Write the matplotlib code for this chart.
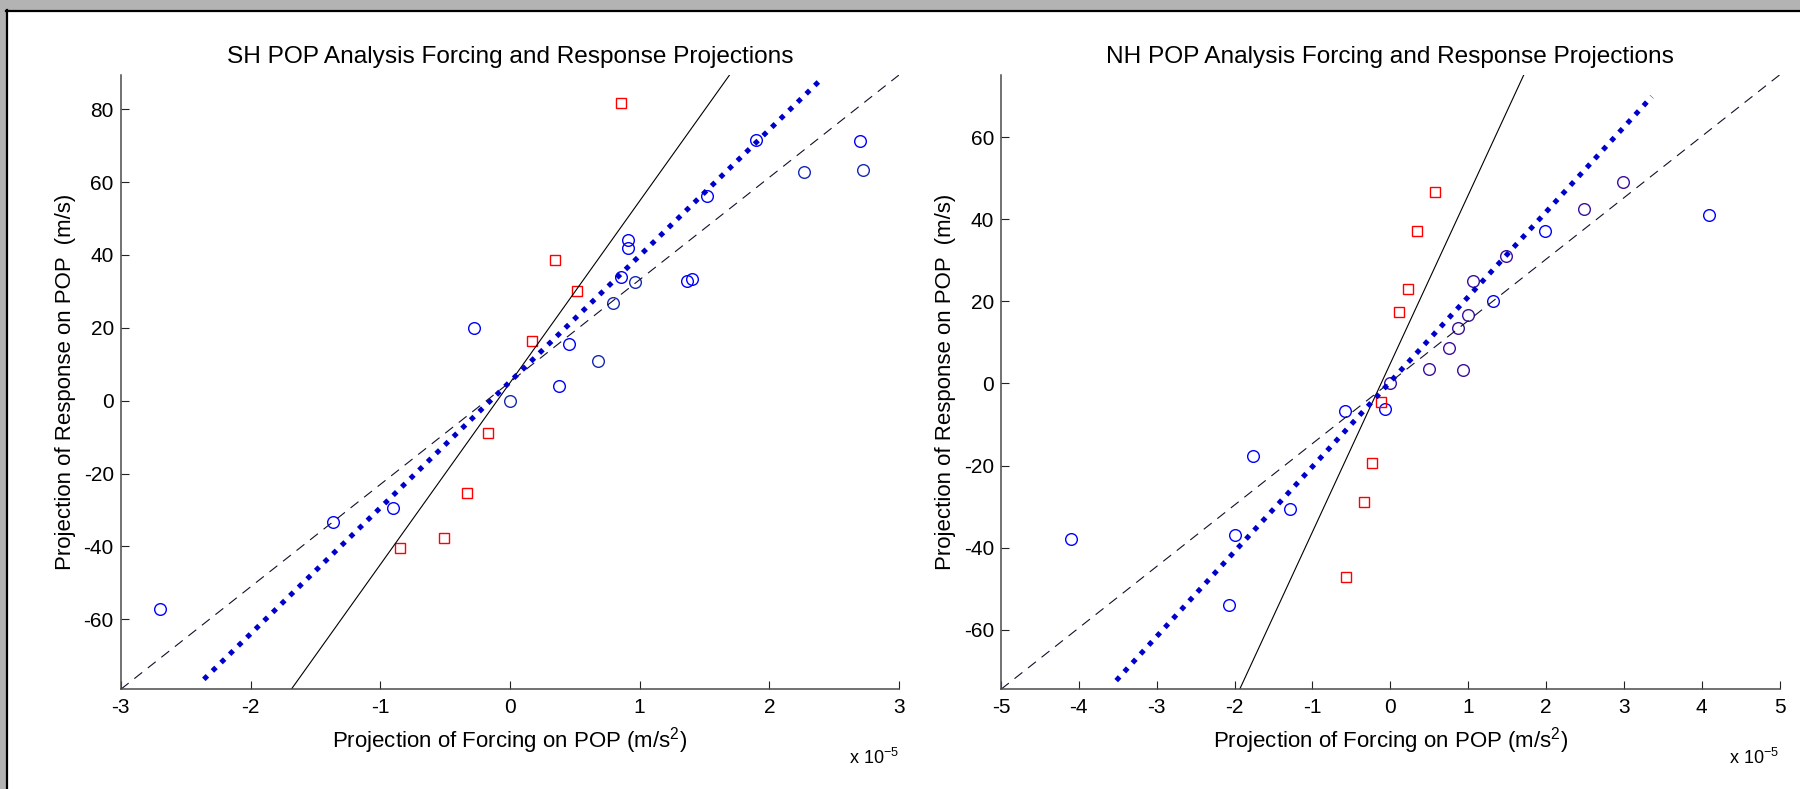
import numpy as np
import matplotlib
matplotlib.use('Agg')
import matplotlib.pyplot as plt
from matplotlib.patches import Rectangle
from matplotlib.lines import Line2D

plt.rcParams['font.family'] = ['Liberation Sans', 'DejaVu Sans']
plt.rcParams['mathtext.fontset'] = 'custom'
plt.rcParams['mathtext.rm'] = 'Liberation Sans'
plt.rcParams['mathtext.default'] = 'regular'
plt.rcParams['axes.unicode_minus'] = False

# x values are in units of 1e-5 m/s^2

# SH panel
sh_circ_x = [1.894, 2.699, 2.267, 2.722, 1.517, 0.910, 0.910, 0.853, 0.964, 1.362,
             1.406, 0.797, 0.455, 0.681, 0.380, 0.0, -0.275, -0.905, -1.367, -2.694]
sh_circ_y = [71.5, 71.2, 62.9, 63.2, 56.1, 44.0, 41.8, 33.9, 32.7, 32.8,
             33.5, 26.8, 15.6, 11.0, 4.0, 0.0, 20.0, -29.5, -33.3, -57.1]
sh_circ_dark = [0, 0, 1, 1, 0, 0, 0, 0, 1, 0, 0, 1, 0, 1, 0, 1, 0, 0, 0, 0]
sh_sq_x = [0.853, 0.345, 0.514, 0.172, -0.167, -0.334, -0.506, -0.846]
sh_sq_y = [81.7, 38.5, 30.0, 16.3, -8.75, -25.3, -37.8, -40.4]
sh_fit = {'solid': (49.9, 4.9), 'dashed': (28.1, 5.1), 'dotted': (34.6, 5.2)}
sh_dot_range = [-2.36, 2.41]
sh_xlim = [-3, 3]
sh_yticks = [-60, -40, -20, 0, 20, 40, 60, 80]

# NH panel
nh_circ_x = [2.991, 2.495, 4.099, 1.994, 1.493, 1.061, 1.322, 0.993, 0.869, 0.749,
             0.501, 0.937, 0.0, -0.064, -0.587, -1.759, -1.284, -1.990, -4.099, -2.071]
nh_circ_y = [49.0, 42.4, 41.1, 37.0, 31.0, 24.9, 20.1, 16.6, 13.4, 8.5,
             3.4, 3.2, 0.0, -6.2, -6.75, -17.6, -30.7, -36.9, -37.9, -54.0]
nh_circ_dark = [1, 1, 0, 0, 1, 1, 0, 1, 1, 1, 1, 1, 1, 0, 0, 0, 0, 0, 0, 0]
nh_sq_x = [0.574, 0.342, 0.227, 0.116, -0.116, -0.231, -0.342, -0.573]
nh_sq_y = [46.6, 37.2, 23.1, 17.4, -4.5, -19.5, -29.0, -47.1]
nh_fit = {'solid': (41.0, 4.8), 'dashed': (14.96, 0.3), 'dotted': (20.67, 0.38)}
nh_dot_range = [-3.52, 3.36]
nh_xlim = [-5, 5]
nh_yticks = [-60, -40, -20, 0, 20, 40, 60]

W, H = 1800, 789
fig = plt.figure(figsize=(W / 100, H / 100), dpi=100)
fig.patch.set_facecolor('white')

# grey window frame on top and left
fig.patches.append(Rectangle((0, 1 - 10 / H), 1, 10 / H, transform=fig.transFigure,
                             facecolor='#b3b3b3', edgecolor='none', zorder=0))
fig.patches.append(Rectangle((0, 0), 6 / W, 1, transform=fig.transFigure,
                             facecolor='#b3b3b3', edgecolor='none', zorder=0))
fig.lines.append(Line2D([6 / W, 1], [1 - 11 / H, 1 - 11 / H], transform=fig.transFigure,
                        color='black', lw=1.6))
fig.lines.append(Line2D([7 / W, 7 / W], [0, 1 - 10 / H], transform=fig.transFigure,
                        color='black', lw=1.6))


def draw_panel(rect, title, cx, cy, cdark, sx, sy, fit, dot_range, xlim, yticks, dark_col):
    ax = fig.add_axes(rect)
    k, b = fit['dashed']
    ylim = [k * xlim[0] + b, k * xlim[1] + b]

    cx = np.array(cx)
    cy = np.array(cy)
    dk = np.array(cdark) == 1
    ax.plot(cx[~dk], cy[~dk], 'o', ms=8.4, mfc='none', mec='#0000ff', mew=1.0)
    ax.plot(cx[dk], cy[dk], 'o', ms=8.4, mfc='none', mec=dark_col, mew=1.0)
    ax.plot(sx, sy, 's', ms=6.6, mfc='none', mec='#ff0000', mew=1.0)

    xx = np.array(xlim, dtype=float)
    k, b = fit['solid']
    ax.plot(xx, k * xx + b, '-', color='black', lw=0.8)
    k, b = fit['dashed']
    ax.plot(xx, k * xx + b, color='#10102a', lw=0.8, dashes=(9, 6.5))
    k, b = fit['dotted']
    xd = np.array(dot_range)
    ax.plot(xd, k * xd + b, color='#0000cd', lw=3.6, dashes=(1.0, 1.4),
            dash_capstyle='butt')

    ax.set_xlim(xlim)
    ax.set_ylim(ylim)
    ax.set_xticks(range(xlim[0], xlim[1] + 1))
    ax.set_xticklabels([str(v) for v in range(xlim[0], xlim[1] + 1)])
    ax.set_yticks(yticks)
    ax.set_yticklabels([str(v) for v in yticks])
    for s in ['top', 'right']:
        ax.spines[s].set_visible(False)
    for s in ['left', 'bottom']:
        ax.spines[s].set_color('#4a4a4a')
        ax.spines[s].set_linewidth(1.1)
    ax.tick_params(direction='in', length=5.8, width=0.8, color='#222222',
                   labelsize=15, top=False, right=False)
    ax.tick_params(axis='x', pad=6)
    ax.tick_params(axis='y', pad=5)

    ax.set_title(title, fontsize=17.6, pad=9)
    ax.set_xlabel(r'Projection of Forcing on POP (m/s$^2$)', fontsize=16)
    ax.xaxis.set_label_coords(0.5, -0.058)
    ax.set_ylabel('Projection of Response on POP  (m/s)', fontsize=16)
    ax.yaxis.set_label_coords(-0.058, 0.5)
    ax.text(1.0, -0.112, r'x 10$^{-5}$', transform=ax.transAxes, ha='right',
            va='center', fontsize=13)
    return ax


ax_h = (689.3 - 75) / H
ax_b = (H - 689.3) / H
draw_panel([120.8 / W, ax_b, 778.2 / W, ax_h], 'SH POP Analysis Forcing and Response Projections',
           sh_circ_x, sh_circ_y, sh_circ_dark, sh_sq_x, sh_sq_y, sh_fit, sh_dot_range,
           sh_xlim, sh_yticks, '#1428b4')
draw_panel([1001 / W, ax_b, 778.5 / W, ax_h], 'NH POP Analysis Forcing and Response Projections',
           nh_circ_x, nh_circ_y, nh_circ_dark, nh_sq_x, nh_sq_y, nh_fit, nh_dot_range,
           nh_xlim, nh_yticks, '#3a0e9e')

fig.savefig('out.png', dpi=100)
